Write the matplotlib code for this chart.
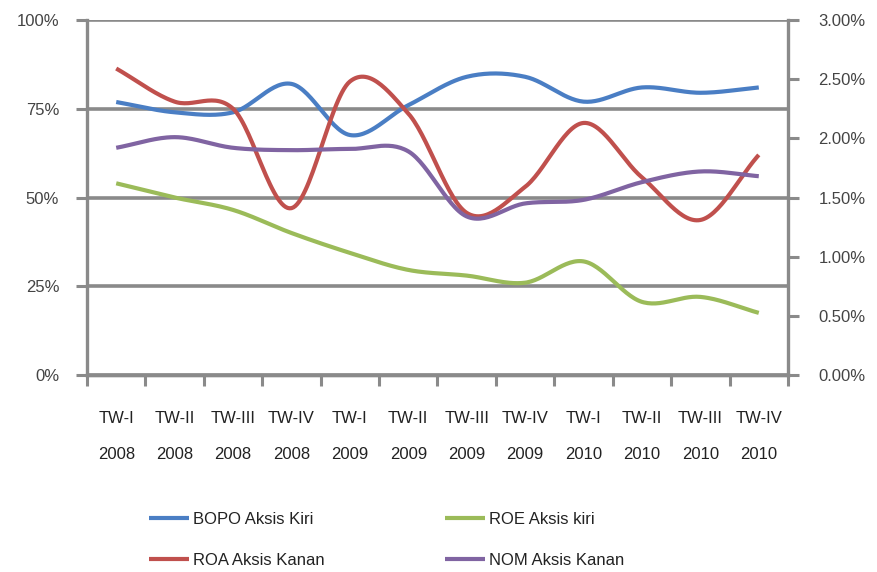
import numpy as np
import matplotlib
matplotlib.use("Agg")
import matplotlib.pyplot as plt
from matplotlib.ticker import FuncFormatter, FixedLocator

# Quarterly periods
quarters = ["TW-I\n2008", "TW-II\n2008", "TW-III\n2008", "TW-IV\n2008",
            "TW-I\n2009", "TW-II\n2009", "TW-III\n2009", "TW-IV\n2009",
            "TW-I\n2010", "TW-II\n2010", "TW-III\n2010", "TW-IV\n2010"]

# Left axis (%)
bopo = [76.9, 74.0, 74.0, 82.0, 67.6, 76.0, 84.0, 84.0, 77.0, 81.0, 79.5, 81.0]
roe = [54.0, 50.0, 46.5, 40.0, 34.4, 29.6, 28.0, 26.0, 32.0, 20.6, 22.0, 17.5]

# Right axis (%)
roa = [2.59, 2.31, 2.25, 1.41, 2.48, 2.21, 1.37, 1.59, 2.13, 1.67, 1.31, 1.86]
nom = [1.92, 2.01, 1.92, 1.90, 1.91, 1.89, 1.34, 1.45, 1.48, 1.63, 1.72, 1.68]

plt.rcParams["font.family"] = ["Liberation Sans", "DejaVu Sans"]


def smooth(x, y, n=30):
    """Catmull-Rom smoothing through the given points."""
    x = np.asarray(x, float)
    y = np.asarray(y, float)
    px = np.concatenate([[2 * x[0] - x[1]], x, [2 * x[-1] - x[-2]]])
    py = np.concatenate([[2 * y[0] - y[1]], y, [2 * y[-1] - y[-2]]])
    xs, ys = [], []
    t = np.linspace(0, 1, n, endpoint=False)
    for i in range(1, len(px) - 2):
        p0, p1, p2, p3 = py[i - 1], py[i], py[i + 1], py[i + 2]
        q0, q1, q2, q3 = px[i - 1], px[i], px[i + 1], px[i + 2]
        for arr, a0, a1, a2, a3 in ((ys, p0, p1, p2, p3), (xs, q0, q1, q2, q3)):
            arr.extend(0.5 * ((2 * a1) + (-a0 + a2) * t
                              + (2 * a0 - 5 * a1 + 4 * a2 - a3) * t ** 2
                              + (-a0 + 3 * a1 - 3 * a2 + a3) * t ** 3))
    xs.append(x[-1])
    ys.append(y[-1])
    return np.array(xs), np.array(ys)


c_blue = "#4A7EC4"
c_red = "#C0504D"
c_green = "#9BBB59"
c_purple = "#8064A2"
grid_c = "#8A8A8A"
text_c = "#222222"

fig = plt.figure(figsize=(8.78, 5.72), dpi=100)
ax = fig.add_axes([87 / 878, 1 - 375 / 572, (788 - 87) / 878, (375 - 20) / 572])
ax2 = ax.twinx()

x = np.arange(len(quarters))
lw = 3.0

h_bopo, = ax.plot(*smooth(x, bopo), color=c_blue, lw=lw, solid_capstyle="butt")
h_roe, = ax.plot(*smooth(x, roe), color=c_green, lw=lw, solid_capstyle="butt")
h_roa, = ax2.plot(*smooth(x, roa), color=c_red, lw=lw, solid_capstyle="butt")
h_nom, = ax2.plot(*smooth(x, nom), color=c_purple, lw=lw, solid_capstyle="butt")

ax.set_xlim(-0.5, len(quarters) - 0.5)
ax.set_ylim(0, 100)
ax2.set_ylim(0, 3.0)

ax.set_yticks([0, 25, 50, 75, 100])
ax.yaxis.set_major_formatter(FuncFormatter(lambda v, p: f"{v:.0f}%"))
ax2.set_yticks(np.arange(0, 3.01, 0.5))
ax2.yaxis.set_major_formatter(FuncFormatter(lambda v, p: f"{v:.2f}%"))

ax.grid(axis="y", color=grid_c, lw=2.6)
ax.set_axisbelow(True)

ax.set_xticks(x)
ax.set_xticklabels(quarters, linespacing=2.75)
ax.xaxis.set_minor_locator(FixedLocator(np.arange(-0.5, len(quarters), 1.0)))
ax.tick_params(axis="x", which="major", length=0, pad=26, labelsize=12,
               labelcolor=text_c)
ax.tick_params(axis="x", which="minor", length=8, width=2.2, color=grid_c)
ax.tick_params(axis="y", length=8, width=2.2, color=grid_c, labelsize=12,
               labelcolor="#444444", pad=12)
ax2.tick_params(axis="y", length=8, width=2.2, color=grid_c, labelsize=12,
                labelcolor="#444444", pad=14)

for a in (ax, ax2):
    a.spines["top"].set_visible(False)
    for s in ("left", "right", "bottom"):
        a.spines[s].set_color(grid_c)
        a.spines[s].set_linewidth(2.4)
ax2.spines["left"].set_visible(False)
ax.spines["right"].set_visible(False)

fig.legend([h_bopo, h_roa, h_roe, h_nom],
           ["BOPO Aksis Kiri", "ROA Aksis Kanan", "ROE Aksis kiri", "NOM Aksis Kanan"],
           ncol=2, loc="center", bbox_to_anchor=(0.44, 0.056),
           frameon=False, fontsize=12, handlelength=2.4, handletextpad=0.25,
           columnspacing=7.2, labelspacing=1.55,
           labelcolor=text_c)

fig.savefig("out.png", dpi=100)
